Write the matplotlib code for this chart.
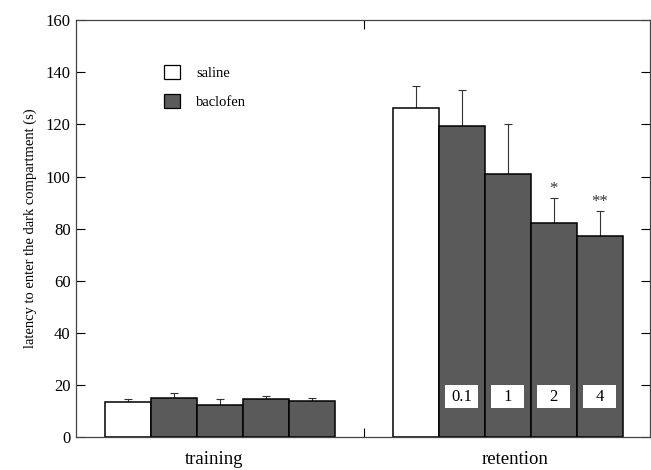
import matplotlib
matplotlib.use("Agg")
import matplotlib.pyplot as plt
from matplotlib.patches import Patch, Rectangle

plt.rcParams["font.family"] = ["Liberation Serif", "DejaVu Serif"]

groups = ["training", "retention"]
treatments = ["saline", "0.1", "1", "2", "4"]
training_mean = [13.5, 15.1, 12.5, 14.6, 13.8]
training_err = [1.2, 1.9, 2.2, 1.0, 1.2]
retention_mean = [126.4, 119.5, 100.9, 82.2, 77.2]
retention_err = [8.4, 13.9, 19.1, 9.6, 9.4]
stars = ["", "", "", "*", "**"]

gray = "#5a5a5a"
colors = ["white", gray, gray, gray, gray]

fig = plt.figure(figsize=(6.51, 4.70), dpi=100)
ax = fig.add_axes([0.117, 0.070, 0.881, 0.887])

starts = [0.63, 6.89]
for start, means, errs in [(starts[0], training_mean, training_err),
                           (starts[1], retention_mean, retention_err)]:
    xs = [start + 0.5 + i for i in range(len(means))]
    ax.bar(xs, means, width=1.0, color=colors, edgecolor="black", linewidth=1.1, zorder=2)
    ax.errorbar(xs, means, yerr=[[0] * len(errs), errs], fmt="none", ecolor="#333333",
                elinewidth=0.8, capsize=3, capthick=0.8, zorder=1)

ret_x = [starts[1] + 0.5 + i for i in range(len(retention_mean))]
for x, m, e, s in zip(ret_x, retention_mean, retention_err, stars):
    if s:
        ax.text(x, m + e + 0.5, s, ha="center", va="bottom", fontsize=12, color="#333333")

# white label boxes with the doses
box_w, box_h, box_y = 0.72, 9.0, 15.5
for x, lab in zip(ret_x[1:], treatments[1:]):
    ax.add_patch(Rectangle((x - box_w / 2, box_y - box_h / 2), box_w, box_h,
                           facecolor="white", edgecolor="none", zorder=3))
    ax.text(x, box_y, lab, ha="center", va="center", fontsize=12, zorder=4)

ax.set_xlim(0, 12.48)
ax.set_ylim(0, 160)
ax.set_yticks(range(0, 161, 20))
ax.set_xticks([6.26])
ax.set_xticklabels([""])
ax.tick_params(axis="y", direction="in", length=6.5, width=0.8, labelsize=12,
               right=True, pad=4)
ax.tick_params(axis="x", direction="in", length=6.5, width=0.8, top=True)
for sp in ax.spines.values():
    sp.set_linewidth(0.9)
    sp.set_color("#444444")

group_centers = [starts[0] + 2.5 - 0.13, starts[1] + 2.5 + 0.15]
for gc, g in zip(group_centers, groups):
    ax.text(gc, -5.5, g, ha="center", va="top", fontsize=13.5,
            transform=ax.transData, clip_on=False)

ax.set_ylabel("latency to enter the dark compartment (s)", fontsize=10.5, labelpad=6)

handles = [Patch(facecolor="white", edgecolor="black", linewidth=0.9, label="saline"),
           Patch(facecolor=gray, edgecolor="black", linewidth=0.9, label="baclofen")]
ax.legend(handles=handles, loc="upper left", bbox_to_anchor=(0.13, 0.925), frameon=False,
          fontsize=10.5, handlelength=1.1, handleheight=1.1, handletextpad=1.1,
          labelspacing=1.0)

fig.savefig("out.png", dpi=100)
